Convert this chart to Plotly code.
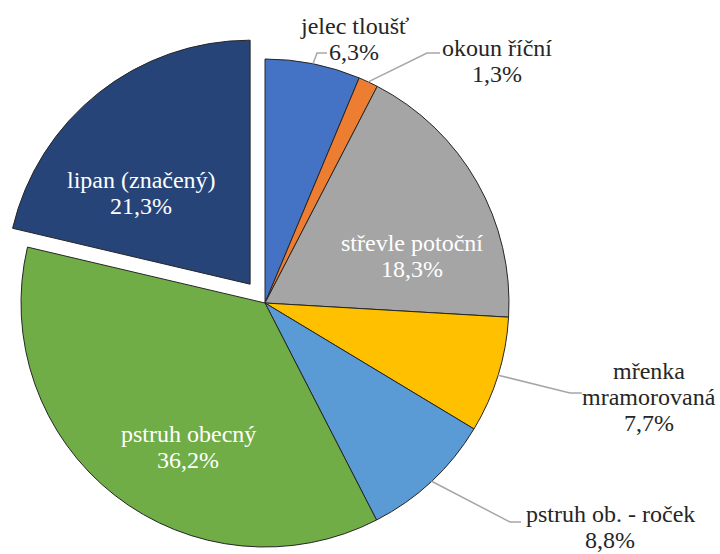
import math
import plotly.graph_objects as go

# ---------------- data ----------------
labels = ["jelec tloušť", "okoun říční", "střevle potoční", "mřenka mramorovaná",
          "pstruh ob. - roček", "pstruh obecný", "lipan (značený)"]
values = [6.3, 1.3, 18.3, 7.7, 8.8, 36.2, 21.3]
label_lines = [["jelec tloušť"], ["okoun říční"], ["střevle potoční"],
               ["mřenka", "mramorovaná"], ["pstruh ob. - roček"],
               ["pstruh obecný"], ["lipan (značený)"]]
colors = ["#4472C4", "#ED7D31", "#A5A5A5", "#FFC000", "#5B9BD5", "#70AD47", "#264478"]
pulled_index = 6

# ---------------- layout / style ----------------
W, H = 720, 554
CX, CY, R = 265, 303, 244      # pie centre and radius in pixels
PULL_PX = 24
FONT = "Liberation Serif"
FS = 24
LINE_SP = 26

# label block centres (pixels) and leader-line elbows for outside labels
label_pos = {0: (354, 39), 1: (497, 61), 2: (412, 256), 3: (649, 397),
             4: (610, 527), 5: (188, 447), 6: (141, 193)}
inside = {2, 5, 6}
leaders = {0: [(317, 53), (327, 53)], 1: [(427, 53), (440, 53)],
           3: [(570, 393), (582, 393)], 4: [(510, 522), (521, 522)]}


def px(x):
    return x / W


def py(y):
    return 1 - y / H


total = sum(values)
cum = 0
mid_angles = []
for v in values:
    mid_angles.append((cum + v / 2) / total * 2 * math.pi)
    cum += v


def domain(cx, cy):
    return dict(x=[px(cx - R), px(cx + R)], y=[py(cy + R), py(cy - R)])


transparent = "rgba(0,0,0,0)"
n = len(values)
c1 = [transparent if i == pulled_index else colors[i] for i in range(n)]
w1 = [0 if i == pulled_index else 1 for i in range(n)]
c2 = [colors[i] if i == pulled_index else transparent for i in range(n)]
w2 = [1 if i == pulled_index else 0 for i in range(n)]

a = mid_angles[pulled_index]
pcx = CX + PULL_PX * math.sin(a)
pcy = CY - PULL_PX * math.cos(a)

fig = go.Figure()
fig.add_trace(go.Pie(labels=labels, values=values, sort=False, direction="clockwise",
                     rotation=0, textinfo="none", hoverinfo="skip",
                     marker=dict(colors=c1, line=dict(color="#262626", width=w1)),
                     domain=domain(CX, CY), showlegend=False))
fig.add_trace(go.Pie(labels=labels, values=values, sort=False, direction="clockwise",
                     rotation=0, textinfo="none", hoverinfo="skip",
                     marker=dict(colors=c2, line=dict(color="#262626", width=w2)),
                     domain=domain(pcx, pcy), showlegend=False))

annotations = []
shapes = []
for i in range(n):
    lines = label_lines[i] + [f"{values[i]:.1f}".replace(".", ",") + "%"]
    bx, by = label_pos[i]
    color = "white" if i in inside else "#262626"
    k = len(lines)
    for j, t in enumerate(lines):
        yy = by + (j - (k - 1) / 2) * LINE_SP
        annotations.append(dict(x=px(bx), y=py(yy), xref="paper", yref="paper",
                                text=t, showarrow=False, xanchor="center",
                                yanchor="middle",
                                font=dict(family=FONT, size=FS, color=color)))
    if i in leaders:
        ang = mid_angles[i]
        sx = CX + R * math.sin(ang)
        sy = CY - R * math.cos(ang)
        pts = [(sx, sy)] + leaders[i]
        path = "M " + " L ".join(f"{px(x)},{py(y)}" for x, y in pts)
        shapes.append(dict(type="path", path=path, xref="paper", yref="paper",
                           line=dict(color="#A6A6A6", width=1.5)))

fig.update_layout(width=W, height=H, margin=dict(l=0, r=0, t=0, b=0),
                  paper_bgcolor="white", plot_bgcolor="white",
                  font=dict(family=FONT),
                  annotations=annotations, shapes=shapes, showlegend=False)
fig.write_html("out.html", config={"displayModeBar": False},
               post_script="document.body.style.margin='0';document.body.style.padding='0';")
